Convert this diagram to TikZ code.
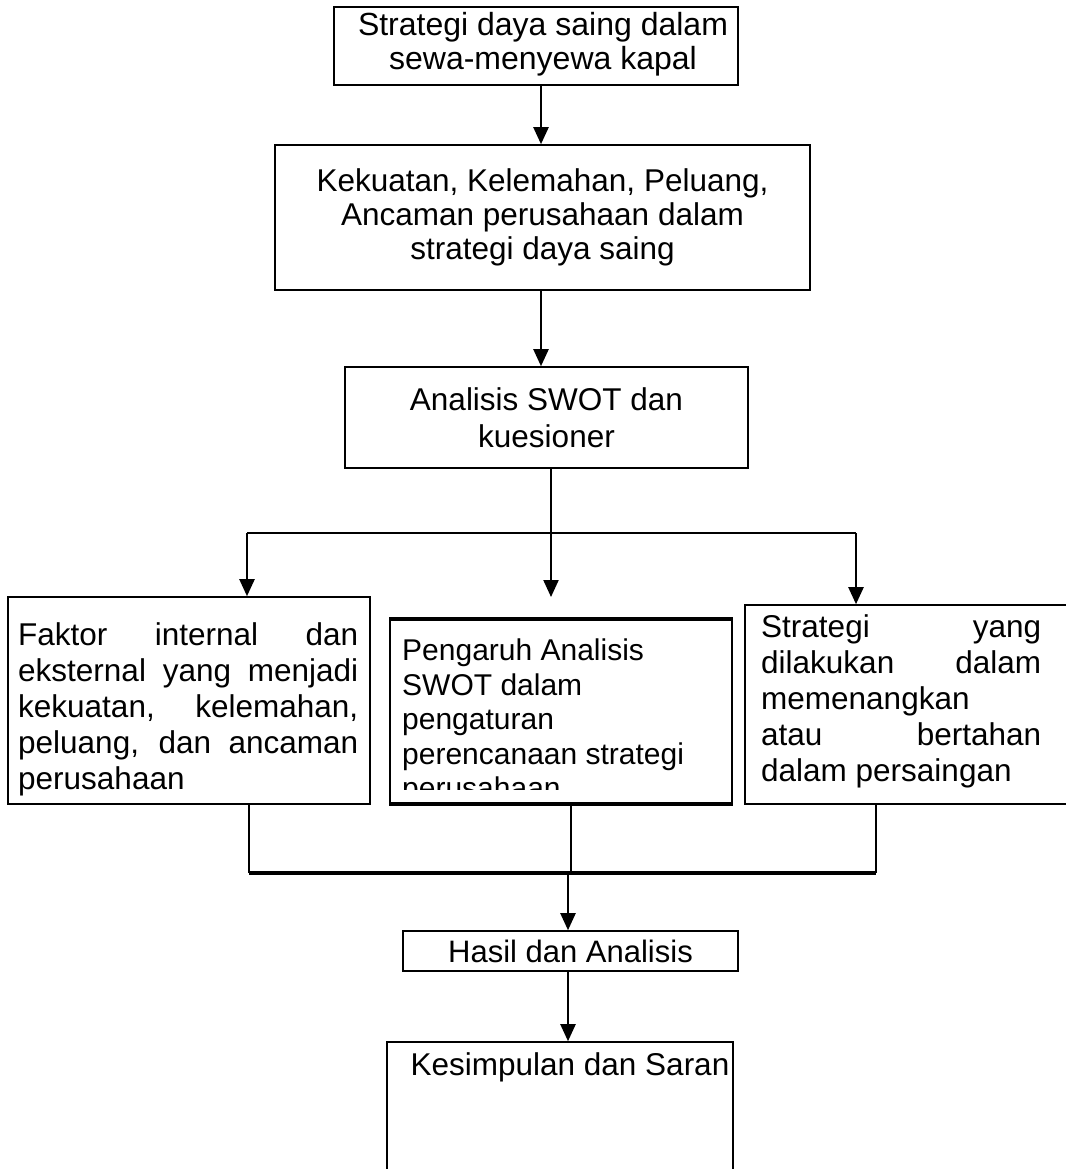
\documentclass[tikz,border=0pt]{standalone}
\usepackage{fontspec}
\setmainfont{Liberation Sans}
\usetikzlibrary{arrows.meta}
\begin{document}
\begin{tikzpicture}[x=1pt,y=-1pt,
  box/.style={draw,line width=1.6pt,inner sep=0pt,align=center,font=\fontsize{31.5}{34}\selectfont},
  plain/.style={draw,line width=1.6pt,inner sep=0pt},
  txt/.style={anchor=north west,inner sep=0pt,align=left},
  conn/.style={line width=2.2pt},
  arr/.style={line width=2.2pt,-{Triangle[width=15pt,length=17pt]}},
  thick bar/.style={line width=3.6pt}]
\useasboundingbox (0,0) rectangle (1065,1169);
\fill[white] (0,0) rectangle (1065,1169);

% boxes
\node[plain,minimum width=404pt,minimum height=78pt] (b1) at (536,46) {};
\node[box,draw=none,font=\fontsize{32}{34}\selectfont] (t1) at (543,44)
  {Strategi daya saing dalam\\sewa-menyewa kapal};
\node[box,minimum width=535pt,minimum height=145pt] (b2) at (542.5,217.5)
  {Kekuatan, Kelemahan, Peluang,\\Ancaman perusahaan dalam\\strategi daya saing};
\node[box,minimum width=403pt,minimum height=101pt,font=\fontsize{31.5}{37}\selectfont] (b3) at (546.5,417.5)
  {Analisis SWOT dan\\kuesioner};
\node[plain,minimum width=362pt,minimum height=207pt] (b4) at (189,700.5) {};
\node[plain,minimum width=342pt,minimum height=183pt] (b5) at (561,711.5) {};
\node[plain,minimum width=330pt,minimum height=199pt] (b6) at (910,704.5) {};
\node[box,minimum width=335pt,minimum height=40pt,font=\fontsize{31}{34}\selectfont] (b7) at (570.5,951) {Hasil dan Analisis};
\node[plain,minimum width=346pt,minimum height=148pt] (b8) at (560,1116) {};

% texts of the lower boxes
\node[txt,font=\fontsize{31.5}{36}\selectfont] (t4) at (18,622)
  {\makebox[340pt][s]{Faktor internal dan}\\
   \makebox[340pt][s]{eksternal yang menjadi}\\
   \makebox[340pt][s]{kekuatan, kelemahan,}\\
   \makebox[340pt][s]{peluang, dan ancaman}\\
   perusahaan};
\begin{scope}
  \clip (b5.north west) rectangle ([yshift=14pt]b5.south east);
  \node[txt,font=\fontsize{30}{34.5}\selectfont] (t5) at (402,639)
    {Pengaruh Analisis\\SWOT dalam\\pengaturan\\perencanaan strategi\\perusahaan};
\end{scope}
\draw[thick bar] (b5.north west) -- (b5.north east);
\draw[thick bar] (b5.south west) -- (b5.south east);
\node[txt,font=\fontsize{31.5}{36}\selectfont] (t6) at (761,614)
  {\makebox[280pt][s]{Strategi yang}\\
   \makebox[280pt][s]{dilakukan dalam}\\
   memenangkan\\
   \makebox[280pt][s]{atau bertahan}\\
   dalam persaingan};
\node[font=\fontsize{31.5}{34}\selectfont,inner sep=0pt] (t8) at (570,1067) {Kesimpulan dan Saran};

% connector coordinates
\coordinate (a1) at (541,0);
\coordinate (jt) at (551,533);
\coordinate (jl) at (247,533);
\coordinate (jr) at (856,533);
\coordinate (m5) at (551,597);
\coordinate (kl) at (249,873);
\coordinate (km) at (571,873);
\coordinate (kr) at (876,873);
\coordinate (kh) at (568,873);

% connectors
\draw[arr] (b1.south -| a1) -- (b2.north -| a1);
\draw[arr] (b2.south -| a1) -- (b3.north -| a1);
\draw[conn] (b3.south -| jt) -- (jt);
\draw[conn] (jl) -- (jr);
\draw[arr] (jl) -- (b4.north -| jl);
\draw[arr] (jt) -- (m5);
\draw[arr] (jr) -- (b6.north -| jr);
\draw[conn] (b4.south -| kl) -- (kl);
\draw[conn] (b5.south -| km) -- (km);
\draw[conn] (b6.south -| kr) -- (kr);
\draw[thick bar] (kl) -- (kr);
\draw[arr] (kh) -- (b7.north -| kh);
\draw[arr] (b7.south -| kh) -- (b8.north -| kh);
\end{tikzpicture}
\end{document}
